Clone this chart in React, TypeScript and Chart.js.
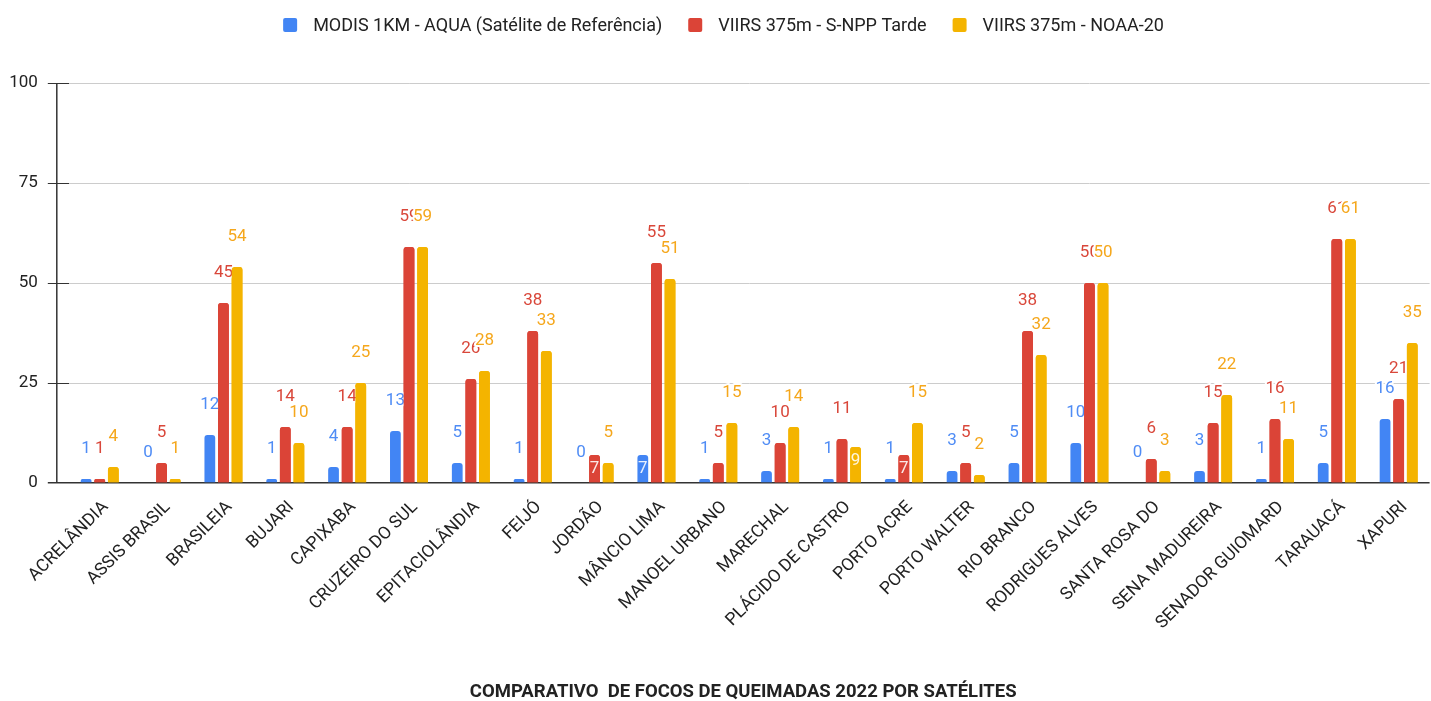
import React, { useEffect, useRef } from "react";
import { Chart, registerables } from "chart.js";

Chart.register(...registerables);

const categories = [
  "ACRELÂNDIA", "ASSIS BRASIL", "BRASILEIA", "BUJARI", "CAPIXABA", "CRUZEIRO DO SUL",
  "EPITACIOLÂNDIA", "FEIJÓ", "JORDÃO", "MÂNCIO LIMA", "MANOEL URBANO", "MARECHAL",
  "PLÁCIDO DE CASTRO", "PORTO ACRE", "PORTO WALTER", "RIO BRANCO", "RODRIGUES ALVES",
  "SANTA ROSA DO", "SENA MADUREIRA", "SENADOR GUIOMARD", "TARAUACÁ", "XAPURI",
];
const modisValues = [1, 0, 12, 1, 4, 13, 5, 1, 0, 7, 1, 3, 1, 1, 3, 5, 10, 0, 3, 1, 5, 16];
const snppValues = [1, 5, 45, 14, 14, 59, 26, 38, 7, 55, 5, 10, 11, 7, 5, 38, 50, 6, 15, 16, 61, 21];
const noaaValues = [4, 1, 54, 10, 25, 59, 28, 33, 5, 51, 15, 14, 9, 15, 2, 32, 50, 3, 22, 11, 61, 35];
const seriesLabels = [
  "MODIS 1KM - AQUA (Satélite de Referência)",
  "VIIRS 375m - S-NPP Tarde",
  "VIIRS 375m - NOAA-20",
];
const yTicks = [0, 25, 50, 75, 100];
const chartTitle = "COMPARATIVO  DE FOCOS DE QUEIMADAS 2022 POR SATÉLITES";
// category indices whose value label sits inside the bar, per series
const insideLabels: number[][] = [[9], [8, 13], [12]];

const seriesColors = ["#4285F4", "#DB4437", "#F4B400"];
const labelColors = ["#4F8CF5", "#D9473A", "#F5A71C"];
const textColor = "#222222";
const FONT = "Roboto";

const overlayPlugin = {
  id: "overlay",
  afterDatasetsDraw(chart: any) {
    const ctx = chart.ctx as CanvasRenderingContext2D;
    ctx.save();
    chart.data.datasets.forEach((ds: any, di: number) => {
      const meta = chart.getDatasetMeta(di);
      if (di > 0) meta.data.forEach((el: any) => el.draw(ctx));
      ctx.font = `17px ${FONT}`;
      ctx.textAlign = "center";
      ctx.textBaseline = "middle";
      ctx.lineJoin = "round";
      meta.data.forEach((el: any, i: number) => {
        const txt = String(ds.data[i]);
        const inside = insideLabels[di].includes(i);
        const x = el.x;
        const y = inside ? el.y + 14 : el.y - 30;
        if (!inside) {
          ctx.strokeStyle = "#ffffff";
          ctx.lineWidth = 4;
          ctx.strokeText(txt, x, y);
          ctx.fillStyle = labelColors[di];
        } else {
          ctx.fillStyle = "rgba(255,255,255,0.88)";
        }
        ctx.fillText(txt, x, y);
      });
    });
    ctx.restore();
  },
  afterDraw(chart: any) {
    const ctx = chart.ctx as CanvasRenderingContext2D;
    const area = chart.chartArea;
    ctx.save();
    // vertical axis line
    const axisX = area.left - 12;
    ctx.strokeStyle = "#333333";
    ctx.lineWidth = 1.5;
    ctx.beginPath();
    ctx.moveTo(axisX, area.top);
    ctx.lineTo(axisX, area.bottom);
    ctx.stroke();

    // legend
    ctx.font = `18px ${FONT}`;
    ctx.textBaseline = "middle";
    ctx.textAlign = "left";
    const box = 14;
    const gapText = 16;
    const gapItem = 26;
    const widths = seriesLabels.map((l) => ctx.measureText(l).width);
    const total = widths.reduce((a, w) => a + box + gapText + w, 0) + gapItem * (seriesLabels.length - 1);
    let x = chart.width / 2 + 8 - total / 2;
    const ly = 25;
    seriesLabels.forEach((l, i) => {
      ctx.fillStyle = seriesColors[i];
      ctx.beginPath();
      (ctx as any).roundRect(x, ly - box / 2, box, box, 2);
      ctx.fill();
      ctx.fillStyle = textColor;
      ctx.fillText(l, x + box + gapText, ly + 1);
      x += box + gapText + widths[i] + gapItem;
    });

    // title
    ctx.font = `bold 18.5px ${FONT}`;
    ctx.textAlign = "center";
    ctx.fillStyle = textColor;
    ctx.fillText(chartTitle, (axisX + area.right) / 2, 692);
    ctx.restore();
  },
};

export default function App() {
  const canvasRef = useRef<HTMLCanvasElement | null>(null);

  useEffect(() => {
    document.body.style.margin = "0";
    const canvas = canvasRef.current;
    if (!canvas) return;
    const values = [modisValues, snppValues, noaaValues];
    const chart = new Chart(canvas, {
      type: "bar",
      data: {
        labels: categories,
        datasets: values.map((data, i) => ({
          label: seriesLabels[i],
          data,
          backgroundColor: seriesColors[i],
          borderRadius: 3,
          categoryPercentage: 0.66,
          barPercentage: 0.79,
        })),
      },
      options: {
        animation: false,
        responsive: true,
        maintainAspectRatio: false,
        layout: { padding: { top: 83, right: 1.4, bottom: 0, left: 0 } },
        plugins: {
          legend: { display: false },
          title: { display: false },
          tooltip: { enabled: false },
        },
        scales: {
          x: {
            afterFit: (scale: any) => {
              scale.height = 218;
            },
            grid: { display: false },
            border: { display: false },
            ticks: {
              autoSkip: false,
              maxRotation: 45,
              minRotation: 45,
              padding: 6,
              labelOffset: 6,
              color: textColor,
              font: { family: FONT, size: 17.5 },
            },
          },
          y: {
            min: 0,
            max: 100,
            afterFit: (scale: any) => {
              scale.width = 68.8;
            },
            afterBuildTicks: (scale: any) => {
              scale.ticks = yTicks.map((v) => ({ value: v }));
            },
            border: { display: false },
            grid: {
              color: (c: any) => (c.tick && c.tick.value === 0 ? "#333333" : "#cccccc"),
              lineWidth: (c: any) => (c.tick && c.tick.value === 0 ? 1.5 : 1),
              tickColor: "#333333",
              tickLength: 21,
            },
            ticks: {
              padding: 10,
              color: textColor,
              font: { family: FONT, size: 17 },
            },
          },
        },
      },
      plugins: [overlayPlugin],
    });
    return () => chart.destroy();
  }, []);

  return (
    <div style={{ position: "fixed", left: 0, top: 0, width: "100vw", height: "100vh" }}>
      <canvas ref={canvasRef} />
    </div>
  );
}
